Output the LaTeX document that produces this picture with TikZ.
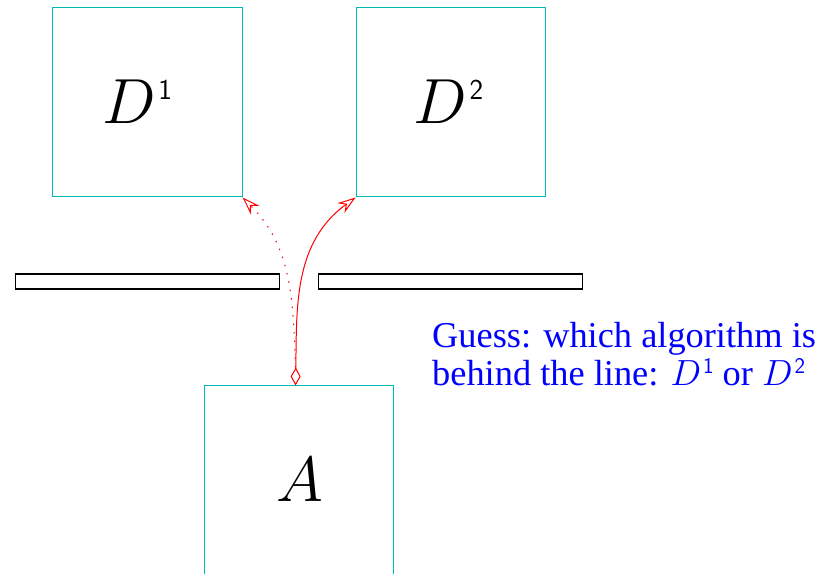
\RequirePackage{fix-cm}
\documentclass[tikz,border=0pt]{standalone}
\usepackage{fontspec}
\newfontfamily\guessfont{Liberation Serif}
\usepackage{tikz}
\usetikzlibrary{arrows.meta,positioning}
\definecolor{boxcyan}{RGB}{0,185,185}
% D with a small raised digit: size, raise, digit
\newcommand{\Dsup}[3]{$D$\kern2bp\raisebox{#2}{\fontsize{#1}{#1}\selectfont\sffamily #3}}
\tikzset{
  algbox/.style={rectangle,draw=boxcyan,line width=1bp,minimum width=189bp,minimum height=189bp,inner sep=0pt,text height=43bp,text depth=0bp,font=\fontsize{64}{70}\selectfont},
  wallbar/.style={rectangle,draw=black,line width=1.2bp,minimum width=264bp,minimum height=15bp,inner sep=0pt},
  note/.style={align=left,text=blue,inner sep=0pt,font=\guessfont\fontsize{36.5}{38}\selectfont},
  >={Stealth[open,length=18bp,width=12bp,inset=6bp]},
  query/.style={->,red,line width=1bp}
}

\begin{document}
\begin{tikzpicture}[x=1bp,y=1bp]
  \useasboundingbox (0,0) rectangle (830,574);
  \node[algbox] (d1) at (147.5,471.5) {\hspace*{-20bp}\Dsup{29}{24.9bp}{1}};
  \node[algbox,right=113bp of d1] (d2) {\hspace*{-4bp}\Dsup{29}{24.9bp}{2}};
  \node[algbox] (alg) at (298.5,93.5) {\hspace*{2bp}$A$};
  \node[wallbar,below=76bp of d1] (wallL) {};
  \node[wallbar,below=76bp of d2] (wallR) {};
  \node[note,anchor=north west] (guess) at (432,252) {Guess: which algorithm is\\behind the line: \Dsup{22.5}{11.4bp}{1} or \Dsup{22.5}{11.4bp}{2}};

  \draw[query,{Diamond[open,length=18bp,width=10bp]}->] ([xshift=-3bp]alg.north) to[out=89,in=216] (d2.south west);
  \draw[query,dash pattern=on 1.5bp off 7bp] ([xshift=-3bp,yshift=18bp]alg.north) to[out=92,in=-45] (d1.south east);
\end{tikzpicture}
\end{document}
